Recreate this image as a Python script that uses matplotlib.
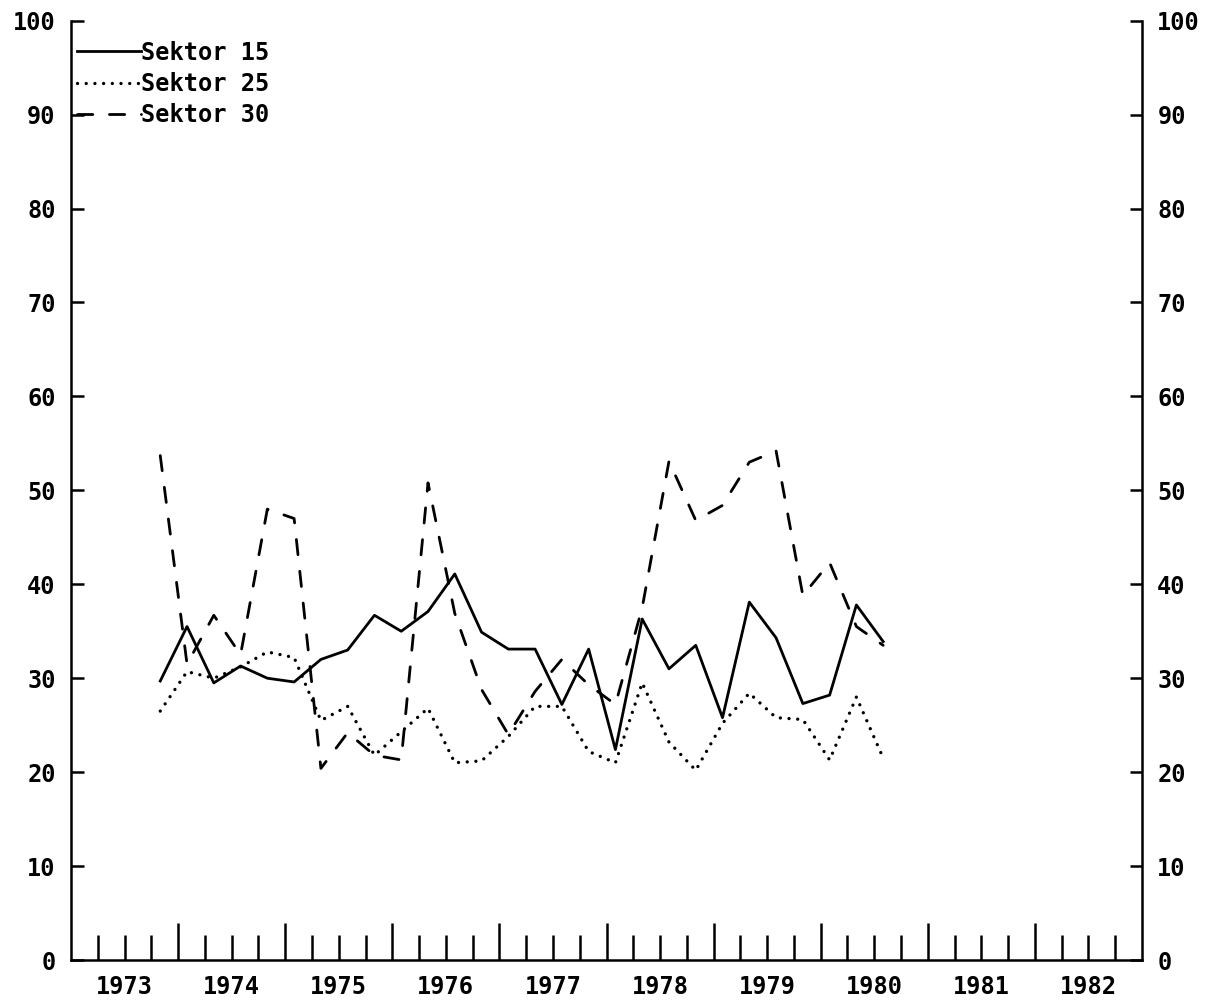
import matplotlib
matplotlib.use("Agg")
import matplotlib.pyplot as plt

# ---- data (quarterly, plotted at middle month of each quarter) ----
quarters = ["1973Q4",
            "1974Q1", "1974Q2", "1974Q3", "1974Q4",
            "1975Q1", "1975Q2", "1975Q3", "1975Q4",
            "1976Q1", "1976Q2", "1976Q3", "1976Q4",
            "1977Q1", "1977Q2", "1977Q3", "1977Q4",
            "1978Q1", "1978Q2", "1978Q3", "1978Q4",
            "1979Q1", "1979Q2", "1979Q3", "1979Q4",
            "1980Q1", "1980Q2", "1980Q3"]

sektor15 = [29.7, 35.5, 29.5, 31.3, 30.0, 29.6, 32.0, 33.0, 36.7, 35.0,
            37.1, 41.1, 34.9, 33.1, 33.1, 27.2, 33.1, 22.4, 36.3, 31.0,
            33.5, 25.8, 38.1, 34.3, 27.3, 28.2, 37.8, 33.9]
sektor25 = [26.5, 30.7, 30.0, 31.2, 32.8, 32.2, 25.5, 27.0, 21.8, 24.3,
            26.8, 21.0, 21.2, 23.8, 27.0, 27.0, 22.2, 21.0, 29.5, 23.2,
            20.2, 25.2, 28.4, 25.8, 25.6, 21.3, 28.0, 21.5]
sektor30 = [53.7, 31.5, 36.7, 32.5, 48.0, 47.0, 20.4, 24.2, 21.8, 21.3,
            50.8, 36.9, 28.8, 24.0, 28.6, 32.0, 29.3, 27.2, 37.5, 53.1,
            46.8, 48.4, 53.0, 54.2, 38.8, 42.3, 35.5, 33.5]

series_names = ["Sektor 15", "Sektor 25", "Sektor 30"]
year_labels = [1973, 1974, 1975, 1976, 1977, 1978, 1979, 1980, 1981, 1982]
y_ticks = [0, 10, 20, 30, 40, 50, 60, 70, 80, 90, 100]


def quarter_pos(q):
    year = int(q[:4])
    qi = int(q[-1])
    mid_month = 3 * qi - 1
    return year + (mid_month - 1) / 12.0


x = [quarter_pos(q) for q in quarters]

plt.rcParams["font.family"] = ["DejaVu Sans Mono", "DejaVu Sans"]
plt.rcParams["font.weight"] = "bold"

FS = 17

fig = plt.figure(figsize=(12.16, 10.08), dpi=100)
ax = fig.add_axes([71 / 1216, 48 / 1008, (1142 - 71) / 1216, (960 - 20.7) / 1008])

lw = 2.0
ax.plot(x, sektor15, color="black", lw=lw, solid_joinstyle="round",
        label=series_names[0])
ax.plot(x, sektor25, color="black", lw=2.4, linestyle=(0, (0.01, 2.6)),
        dash_capstyle="round", label=series_names[1])
ax.plot(x, sektor30, color="black", lw=lw, linestyle=(0, (5.5, 6)),
        dash_capstyle="round", label=series_names[2])

first, last = year_labels[0], year_labels[-1] + 1
ax.set_xlim(first, last)
ax.set_ylim(0, 100)

# y axis: ticks inward on both sides, labels both sides
ax.set_yticks(y_ticks)
ax.set_yticklabels([str(v) for v in y_ticks])
ax.tick_params(axis="y", direction="in", length=9, width=1.8,
               left=True, right=True, labelleft=True, labelright=True,
               labelsize=FS, pad=11)

# x axis: labels centered in years, quarter ticks short, year ticks long
ax.set_xticks([y + 0.5 for y in year_labels])
ax.set_xticklabels([str(y) for y in year_labels])
ax.set_xticks([y + f for y in year_labels for f in (0.25, 0.75)], minor=True)
ax.tick_params(axis="x", which="both", direction="in", length=18, width=1.8,
               labelsize=FS, pad=11)

sec = ax.secondary_xaxis("bottom")
sec.set_xticks(list(range(first + 1, last)))
sec.tick_params(axis="x", direction="in", length=27, width=1.8,
                labelbottom=False)
for s in sec.spines.values():
    s.set_visible(False)

ax.spines["top"].set_visible(False)
for side in ("left", "right", "bottom"):
    ax.spines[side].set_linewidth(1.8)

leg = ax.legend(loc="upper left", bbox_to_anchor=(6 / 1071, 1 - 20 / 939),
                frameon=False, fontsize=FS, handlelength=2.7,
                handletextpad=0.0, borderpad=0, borderaxespad=0,
                labelspacing=0.3)

fig.savefig("out.png", dpi=100, facecolor="white")
